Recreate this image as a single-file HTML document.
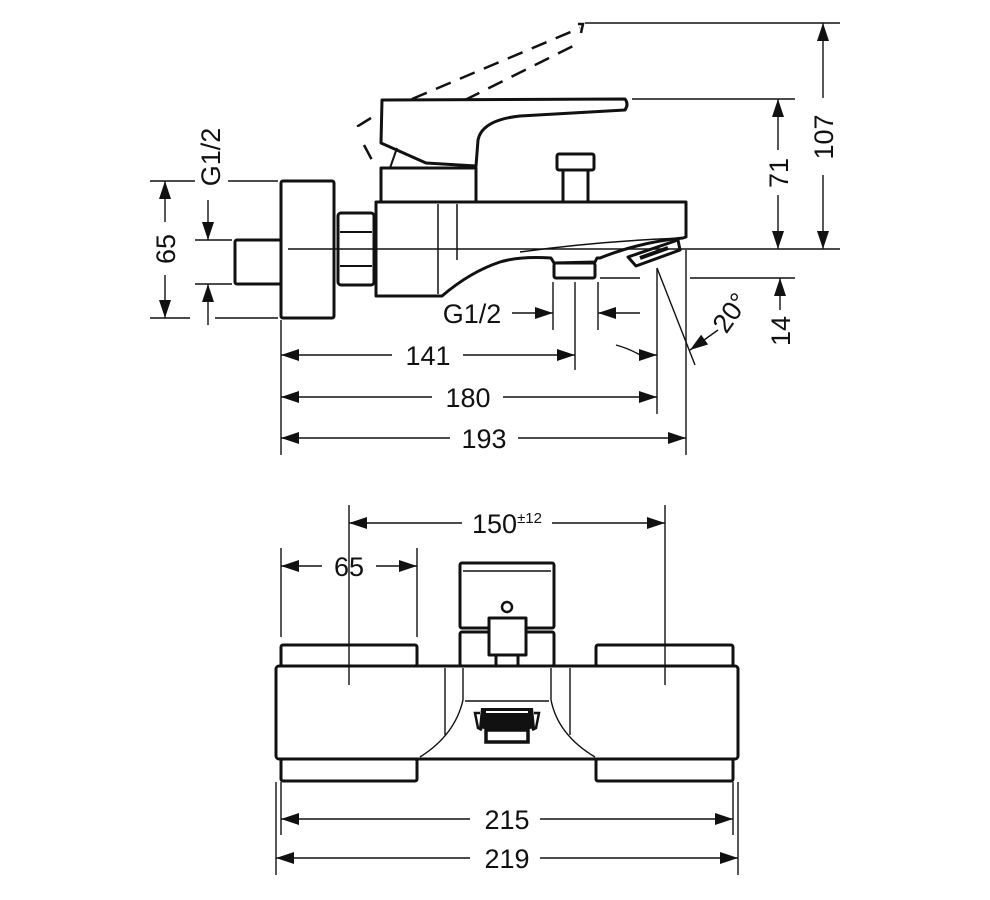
<!DOCTYPE html>
<html><head><meta charset="utf-8"><style>
html,body{margin:0;padding:0;background:#fff;}
svg{display:block;}
text{font-family:"Liberation Sans",sans-serif;font-size:27px;fill:#111;}
</style></head><body>
<svg width="990" height="900" viewBox="0 0 990 900" xmlns="http://www.w3.org/2000/svg">
<defs>
<marker id="a" viewBox="0 0 18 12" refX="18" refY="6" markerWidth="18" markerHeight="12" markerUnits="userSpaceOnUse" orient="auto-start-reverse">
<path d="M0,0 L18,6 L0,12 Z" fill="#111"/></marker>
</defs>
<g stroke="#111" fill="none" stroke-width="1.4">
<line x1="150" y1="181" x2="195" y2="181"/><line x1="228" y1="181" x2="278" y2="181"/>
<line x1="150" y1="318" x2="190" y2="318"/><line x1="215" y1="318" x2="278" y2="318"/>
<line x1="195" y1="240" x2="232" y2="240"/><line x1="195" y1="284" x2="232" y2="284"/>
<line x1="288" y1="249" x2="840" y2="249"/>
<line x1="585" y1="23" x2="840" y2="23"/>
<line x1="632" y1="99" x2="795" y2="99"/>
<line x1="600" y1="278" x2="640" y2="278"/><line x1="690" y1="278" x2="795" y2="278"/>
<line x1="281" y1="320" x2="281" y2="455"/>
<line x1="553" y1="282" x2="553" y2="330"/>
<line x1="575" y1="282" x2="575" y2="370"/>
<line x1="598" y1="282" x2="598" y2="330"/>
<line x1="657" y1="268" x2="657" y2="414"/>
<line x1="686" y1="250" x2="686" y2="455"/>
<line x1="657" y1="268" x2="695" y2="365"/>
<line x1="165" y1="181" x2="165" y2="222" marker-start="url(#a)"/>
<line x1="165" y1="275" x2="165" y2="318" marker-end="url(#a)"/>
<line x1="208" y1="200" x2="208" y2="240" marker-end="url(#a)"/>
<line x1="208" y1="325" x2="208" y2="284" marker-end="url(#a)"/>
<line x1="823" y1="23" x2="823" y2="98" marker-start="url(#a)"/>
<line x1="823" y1="175" x2="823" y2="249" marker-end="url(#a)"/>
<line x1="778" y1="99" x2="778" y2="150" marker-start="url(#a)"/>
<line x1="778" y1="195" x2="778" y2="249" marker-end="url(#a)"/>
<line x1="780" y1="310" x2="780" y2="278" marker-end="url(#a)"/>
<line x1="773" y1="346" x2="773" y2="346"/>
<line x1="512" y1="313" x2="553" y2="313" marker-end="url(#a)"/>
<line x1="640" y1="313" x2="598" y2="313" marker-end="url(#a)"/>
<line x1="281" y1="355" x2="392" y2="355" marker-start="url(#a)"/>
<line x1="463" y1="355" x2="575" y2="355" marker-end="url(#a)"/>
<path d="M616,345 Q630,349 640,355"/>
<line x1="640" y1="355" x2="657" y2="355" marker-end="url(#a)"/>
<line x1="281" y1="397" x2="432" y2="397" marker-start="url(#a)"/>
<line x1="503" y1="397" x2="657" y2="397" marker-end="url(#a)"/>
<line x1="281" y1="438" x2="450" y2="438" marker-start="url(#a)"/>
<line x1="518" y1="438" x2="686" y2="438" marker-end="url(#a)"/>
<line x1="718" y1="330" x2="690" y2="350" marker-end="url(#a)"/>
</g>
<g stroke="#111" fill="none" stroke-width="3" stroke-linejoin="round">
<rect x="281" y="181" width="53" height="137" rx="2"/>
<rect x="235" y="240" width="46" height="44" rx="2"/>
<rect x="338" y="213" width="36" height="72" rx="3"/>
<line x1="340" y1="232" x2="372" y2="232" stroke-width="2"/>
<line x1="340" y1="266" x2="372" y2="266" stroke-width="2"/>
<path d="M376,202 L686,202 L686,237 L683,238 Q640,242 600,258 L597,258 L595,262 L554,263 L551,258 Q520,256 500,262 Q470,272 442,296 L376,296 Z"/>
<path d="M683,238 Q600,241 520,252" stroke-width="1.5"/>
<line x1="438" y1="204" x2="438" y2="294" stroke-width="1.5"/>
<line x1="457" y1="204" x2="457" y2="260" stroke-width="1.5"/>
<rect x="554" y="263" width="41" height="15" rx="2"/>
<path d="M628,257 L678,240 L680,250 L636,266 Z"/>
<path d="M640,258 L668,248" stroke-width="4"/>
<rect x="557" y="154" width="37" height="16" rx="2"/>
<rect x="563" y="170" width="25" height="32"/>
<rect x="381" y="168" width="95" height="34"/>
<line x1="390" y1="168" x2="397" y2="148" stroke-width="2"/>
<path d="M382,100 L625,99 Q629,104 625,110 L520,116 Q482,120 478,140 L476,166 L426,163 L381,143 Z"/>
</g>
<g stroke="#111" fill="none" stroke-width="2.5" stroke-dasharray="16,10">
<line x1="412" y1="99" x2="580" y2="28"/>
<line x1="465" y1="100" x2="577" y2="44"/>
<path d="M578,24 L583,24 L581,33"/>
<path d="M371,118 L358,126 L360,132"/>
<line x1="364" y1="145" x2="373" y2="162"/>
</g>
<text x="428" y="365" text-anchor="middle">141</text>
<text x="468" y="407" text-anchor="middle">180</text>
<text x="484" y="448" text-anchor="middle">193</text>
<text x="472" y="323" text-anchor="middle">G1/2</text>
<text transform="translate(175,249) rotate(-90)" text-anchor="middle">65</text>
<text transform="translate(220,157) rotate(-90)" text-anchor="middle">G1/2</text>
<text transform="translate(833,137) rotate(-90)" text-anchor="middle">107</text>
<text transform="translate(788,173) rotate(-90)" text-anchor="middle">71</text>
<text transform="translate(790,331) rotate(-90)" text-anchor="middle">14</text>
<text transform="translate(738,318) rotate(-55)" text-anchor="middle">20°</text>

<g stroke="#111" fill="none" stroke-width="1.4">
<line x1="349" y1="505" x2="349" y2="685"/>
<line x1="665" y1="505" x2="665" y2="685"/>
<line x1="281" y1="548" x2="281" y2="637"/>
<line x1="417" y1="548" x2="417" y2="637"/>
<line x1="276" y1="782" x2="276" y2="875"/>
<line x1="281" y1="782" x2="281" y2="835"/>
<line x1="733" y1="782" x2="733" y2="835"/>
<line x1="738" y1="782" x2="738" y2="875"/>
<line x1="349" y1="523" x2="462" y2="523" marker-start="url(#a)"/>
<line x1="552" y1="523" x2="665" y2="523" marker-end="url(#a)"/>
<line x1="281" y1="566" x2="322" y2="566" marker-start="url(#a)"/>
<line x1="376" y1="566" x2="417" y2="566" marker-end="url(#a)"/>
<line x1="281" y1="819" x2="470" y2="819" marker-start="url(#a)"/>
<line x1="540" y1="819" x2="733" y2="819" marker-end="url(#a)"/>
<line x1="276" y1="858" x2="470" y2="858" marker-start="url(#a)"/>
<line x1="540" y1="858" x2="738" y2="858" marker-end="url(#a)"/>
<line x1="445" y1="668" x2="445" y2="735"/>
<line x1="570" y1="668" x2="570" y2="735"/>
<line x1="463" y1="668" x2="463" y2="700"/>
<line x1="551" y1="668" x2="551" y2="700"/>
<line x1="465" y1="701" x2="549" y2="701"/>
<path d="M463,700 Q455,735 420,757"/>
<path d="M551,700 Q558,735 595,757"/>
</g>
<g stroke="#111" fill="none" stroke-width="3" stroke-linejoin="round">
<rect x="276" y="666" width="462" height="93" rx="3"/>
<rect x="281" y="645" width="136" height="21" rx="2"/>
<rect x="596" y="645" width="137" height="21" rx="2"/>
<rect x="281" y="759" width="136" height="22" rx="2"/>
<rect x="596" y="759" width="137" height="22" rx="2"/>
<rect x="460" y="563" width="94" height="65" rx="2"/>
<line x1="463" y1="571" x2="551" y2="571" stroke-width="1.5"/>
<rect x="460" y="632" width="94" height="34" rx="2"/>
<rect x="489" y="618" width="37" height="37" fill="#fff"/>
<rect x="496" y="655" width="22" height="11"/>
<circle cx="507" cy="607" r="5" stroke-width="2.5"/>
</g>
<path d="M481,708 L533,708 L535,728 Q507,734 479,728 Z" fill="#111"/>
<path d="M486,712 L528,712" stroke="#fff" stroke-width="2"/>
<rect x="486" y="730" width="42" height="12" fill="none" stroke="#111" stroke-width="3.5"/>
<path d="M480,713 L475,713 L478,728 L482,730 M534,713 L539,713 L536,728 L532,730" fill="none" stroke="#111" stroke-width="2.5"/>
<text x="507" y="533" text-anchor="middle">150<tspan font-size="15" dy="-10">±12</tspan></text>
<text x="349" y="576" text-anchor="middle">65</text>
<text x="507" y="829" text-anchor="middle">215</text>
<text x="507" y="868" text-anchor="middle">219</text>
</svg>
</body></html>
